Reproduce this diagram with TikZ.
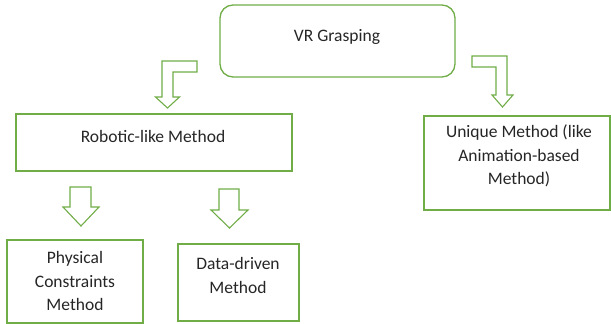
\documentclass[tikz,border=0pt]{standalone}
\usepackage{fontspec}
\setmainfont{Carlito}
\definecolor{boxgreen}{RGB}{112,173,71}
\definecolor{txtgray}{RGB}{38,38,38}
\begin{document}
\begin{tikzpicture}[x=1pt,y=-1pt,
  boxstyle/.style={draw=boxgreen,line width=1.3pt,fill=white,inner sep=0pt},
  arrowshape/.style={draw=boxgreen,line width=1.1pt,fill=white,line join=miter},
  lbl/.style={text=txtgray,font=\fontsize{17.5}{23.5}\selectfont,align=center,inner sep=0pt}]
\useasboundingbox (0,0) rectangle (611,324);
% boxes
\node[boxstyle,rounded corners=13pt,minimum width=235pt,minimum height=72pt] (vr) at (337.5,41) {};
\node[boxstyle,minimum width=276pt,minimum height=57pt] (rob) at (154,142.5) {};
\node[boxstyle,minimum width=186pt,minimum height=94pt] (uni) at (517,163) {};
\node[boxstyle,minimum width=136pt,minimum height=83pt] (phy) at (75,281.5) {};
\node[boxstyle,minimum width=121pt,minimum height=77pt] (dat) at (238.5,282.5) {};
% texts
\node[lbl] (tvr) at (337,37) {VR Grasping};
\node[lbl] (trob) at (153,136) {Robotic-like Method};
\node[lbl] (tuni) at (519,156) {Unique Method (like\\Animation-based\\Method)};
\node[lbl] (tphy) at (75,281) {Physical\\Constraints\\Method};
\node[lbl] (tdat) at (238,275.5) {Data-driven\\Method};
% block arrows
\draw[arrowshape] (197,61) -- (162,61) -- (162,97) -- (155.5,97) -- (167.5,108) -- (179.5,97) -- (173,97) -- (173,72) -- (197,72) -- cycle;
\draw[arrowshape] (472,56) -- (507,56) -- (507,95) -- (513,95) -- (502.5,107) -- (492,95) -- (496,95) -- (496,67) -- (472,67) -- cycle;
\draw[arrowshape] (70,187) -- (91,187) -- (91,207) -- (99,207) -- (81,226) -- (63,207) -- (70,207) -- cycle;
\draw[arrowshape] (219,189) -- (239,189) -- (239,210) -- (248,210) -- (229.5,228) -- (211,210) -- (219,210) -- cycle;
\end{tikzpicture}
\end{document}
